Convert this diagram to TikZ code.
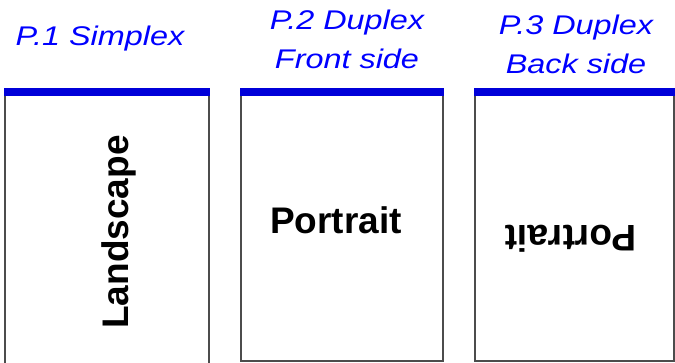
\documentclass[tikz,border=0pt]{standalone}
\usepackage{fontspec}
\setmainfont{Liberation Sans}
\usepackage{tikz}
\usetikzlibrary{positioning}

\tikzset{
  pagebox/.style={draw=black!70, line width=1.6pt, fill=white, inner sep=0pt},
  topbar/.style={blue!85!black, line width=8pt},
  sidelabel/.style={blue, anchor=base, align=center, inner sep=0pt,
    font=\fontsize{27}{38.5}\selectfont\itshape, xscale=1.2, transform shape},
  pagetext/.style={anchor=base, inner sep=0pt, font=\fontsize{37}{37}\selectfont\bfseries},
}

\begin{document}
\begin{tikzpicture}[x=1pt, y=-1pt]
  \useasboundingbox (0,0) rectangle (675,362);
  % 三张纸
  \node[pagebox, minimum width=204pt, minimum height=282pt] (p1) at (107,234) {};
  \node[pagebox, minimum width=202pt, minimum height=268pt] (p2) at (342,227) {};
  \node[pagebox, minimum width=199pt, minimum height=268pt] (p3) at (574.5,227) {};
  % 装订边
  \draw[topbar] (p1.north west) -- (p1.north east);
  \draw[topbar] (p2.north west) -- (p2.north east);
  \draw[topbar] (p3.north west) -- (p3.north east);
  % 标题
  \node[sidelabel] (t1) at (100,45) {P.1 Simplex};
  \node[sidelabel] (t2) at (347,68) {P.2 Duplex\\Front side};
  \node[sidelabel] (t3) at (576,73) {P.3 Duplex\\Back side};
  % 纸上的字
  \node[pagetext, rotate=90] (l1) at (128,232) {Landscape};
  \node[pagetext] (l2) at (336,233) {Portrait};
  \node[pagetext, rotate=180] (l3) at (571,225) {Portrait};
\end{tikzpicture}
\end{document}
